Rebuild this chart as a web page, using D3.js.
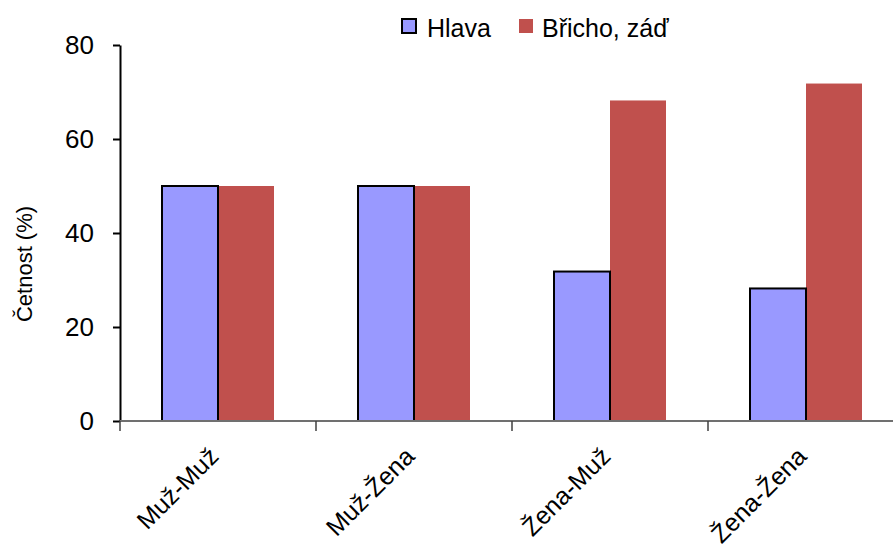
<!DOCTYPE html>
<html>
<head>
<meta charset="utf-8">
<script src="https://cdn.jsdelivr.net/npm/d3@7"></script>
<style>
  html, body { margin: 0; padding: 0; background: #fff; }
  svg { display: block; font-family: "Liberation Sans", Arial, sans-serif; }
</style>
</head>
<body>
<svg id="chart" width="893" height="551"></svg>
<script>
// Categories (pair types) and the two body-region series, in percent
const categories = ["Muž-Muž", "Muž-Žena", "Žena-Muž", "Žena-Žena"];
const seriesNames = ["Hlava", "Břicho, záď"];
const hlava = [50, 50, 31.8, 28.2];
const bricho = [50, 50, 68.2, 71.8];
const yTicks = [0, 20, 40, 60, 80];

const seriesValues = [hlava, bricho];
const colors = ["#9999FF", "#C0504D"];

const svg = d3.select("#chart");
const margin = { left: 120, top: 45, bottom: 421 };
const bandW = 196;

const x = d3.scaleBand()
  .domain(categories)
  .range([margin.left, margin.left + bandW * categories.length])
  .paddingInner(0)
  .paddingOuter(0);

const y = d3.scaleLinear().domain([0, 80]).range([margin.bottom, margin.top]);

// Inner scale: two bars in the middle of each category
const barW = bandW / 3.5;
const xs = d3.scaleBand().domain(d3.range(seriesNames.length))
  .range([(bandW - 2 * barW) / 2, (bandW + 2 * barW) / 2]);

// Bars
const groups = svg.selectAll("g.grp")
  .data(categories)
  .join("g")
  .attr("class", "grp")
  .attr("transform", d => `translate(${x(d)},0)`);

// Red bars first, then blue ones with outline on top
[1, 0].forEach(si => {
  groups.append("rect")
    .attr("x", (d, i) => xs(si))
    .attr("y", (d, i) => y(seriesValues[si][i]))
    .attr("width", xs.bandwidth())
    .attr("height", (d, i) => y(0) - y(seriesValues[si][i]))
    .attr("fill", colors[si])
    .attr("stroke", si === 0 ? "#000" : "none")
    .attr("stroke-width", si === 0 ? 2 : 0);
});

// Y axis
const yAxis = svg.append("g")
  .attr("transform", `translate(${margin.left},0)`)
  .call(d3.axisLeft(y).tickValues(yTicks).tickSize(7).tickPadding(19).tickSizeOuter(0));
yAxis.select(".domain").attr("stroke", "#000").attr("stroke-width", 2);
yAxis.selectAll(".tick line").attr("stroke", "#000").attr("stroke-width", 2);
yAxis.selectAll(".tick text").attr("font-size", 26).attr("fill", "#000")
  .attr("font-family", "Liberation Sans, Arial, sans-serif");

// X axis (ticks at category boundaries)
const xAxisG = svg.append("g").attr("transform", `translate(0,${margin.bottom})`);
xAxisG.append("line")
  .attr("x1", margin.left).attr("x2", 893)
  .attr("y1", 0).attr("y2", 0)
  .attr("stroke", "#707070").attr("stroke-width", 2);
xAxisG.selectAll("line.tk")
  .data(categories)
  .join("line")
  .attr("class", "tk")
  .attr("x1", d => x(d)).attr("x2", d => x(d))
  .attr("y1", 0).attr("y2", 10)
  .attr("stroke", "#404040").attr("stroke-width", 1.5);

// Rotated category labels
xAxisG.selectAll("text.lbl")
  .data(categories)
  .join("text")
  .attr("class", "lbl")
  .attr("text-anchor", "end")
  .attr("font-size", 25)
  .attr("fill", "#000")
  .attr("transform", d => `translate(${x(d) + bandW / 2 + 2},${37}) rotate(-45)`)
  .text(d => d);

// Y axis title
svg.append("text")
  .attr("transform", `translate(32,264) rotate(-90)`)
  .attr("text-anchor", "middle")
  .attr("font-size", 22)
  .attr("fill", "#000")
  .text("Četnost (%)");

// Legend
const legend = svg.append("g");
const legendX = [402, 519];
seriesNames.forEach((name, i) => {
  legend.append("rect")
    .attr("x", legendX[i]).attr("y", 19)
    .attr("width", 14).attr("height", 14)
    .attr("fill", colors[i])
    .attr("stroke", i === 0 ? "#000" : "none")
    .attr("stroke-width", i === 0 ? 2 : 0);
  legend.append("text")
    .attr("x", legendX[i] + (i === 0 ? 25 : 23)).attr("y", 37)
    .attr("font-size", 25)
    .attr("fill", "#000")
    .text(name);
});
</script>
</body>
</html>
